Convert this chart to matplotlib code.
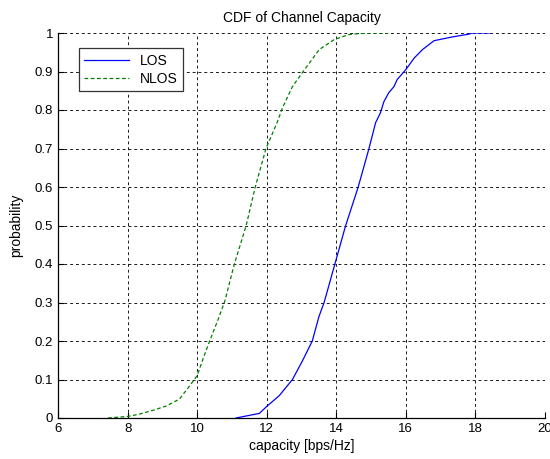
import numpy as np
import matplotlib.pyplot as plt

plt.rcParams['font.family'] = ['Liberation Sans', 'DejaVu Sans']

# LOS capacity CDF
los_x = [11.12, 11.79, 12.0, 12.36, 12.74, 13.03, 13.31, 13.5, 13.65, 13.96,
         14.27, 14.63, 14.94, 15.13, 15.27, 15.37, 15.51, 15.66, 15.75, 16.0,
         16.24, 16.48, 16.81, 17.29, 17.81, 17.9, 18.42]
los_y = [0.0, 0.012, 0.03, 0.058, 0.1, 0.149, 0.2, 0.263, 0.3, 0.4,
         0.5, 0.6, 0.7, 0.767, 0.793, 0.822, 0.845, 0.861, 0.879, 0.905,
         0.935, 0.957, 0.98, 0.989, 0.997, 1.0, 1.0]

# NLOS capacity CDF
nlos_x = [7.44, 8.0, 8.34, 8.73, 9.11, 9.49, 9.73, 10.0, 10.19, 10.36,
          10.62, 10.8, 11.07, 11.41, 11.67, 11.98, 12.31, 12.45, 12.74, 13.08,
          13.51, 13.94, 14.37, 14.84, 15.5]
nlos_y = [0.0, 0.004, 0.01, 0.02, 0.031, 0.049, 0.077, 0.11, 0.159, 0.2,
          0.26, 0.305, 0.4, 0.5, 0.6, 0.7, 0.77, 0.805, 0.861, 0.904,
          0.957, 0.983, 0.996, 1.0, 1.0]

fig = plt.figure(figsize=(5.5, 4.59), dpi=100)
ax = fig.add_axes([58 / 550, 41 / 459, 487 / 550, 385 / 459])

ax.plot(los_x, los_y, color='#0000ff', lw=0.9, label='LOS')
ax.plot(nlos_x, nlos_y, color='#008000', lw=0.9, linestyle=(0, (3, 2)), label='NLOS')

ax.set_xlim(6, 20)
ax.set_ylim(0, 1)
ax.set_xticks(np.arange(6, 21, 2))
ax.set_yticks(np.arange(0, 1.01, 0.1))
ax.set_yticklabels(['0', '0.1', '0.2', '0.3', '0.4', '0.5', '0.6', '0.7', '0.8', '0.9', '1'])
ax.tick_params(direction='in', labelsize=9.5, length=4, colors='k')
ax.grid(True, color='#1a1a1a', lw=0.7, linestyle=(0, (3, 3)))
ax.spines['top'].set_visible(False)
ax.spines['right'].set_visible(False)
for s in ['left', 'bottom']:
    ax.spines[s].set_linewidth(0.9)

ax.set_title('CDF of Channel Capacity', fontsize=10, pad=8)
ax.set_xlabel('capacity [bps/Hz]', fontsize=10, labelpad=3)
ax.set_ylabel('probability', fontsize=10, labelpad=8)

leg = ax.legend(loc='upper left', bbox_to_anchor=(0.043, 0.961), fontsize=10,
                fancybox=False, framealpha=1, edgecolor='#333333',
                handlelength=3.2, borderpad=0.4, labelspacing=0.3,
                borderaxespad=0)
leg.get_frame().set_linewidth(0.9)

fig.savefig('out.png', dpi=100)
